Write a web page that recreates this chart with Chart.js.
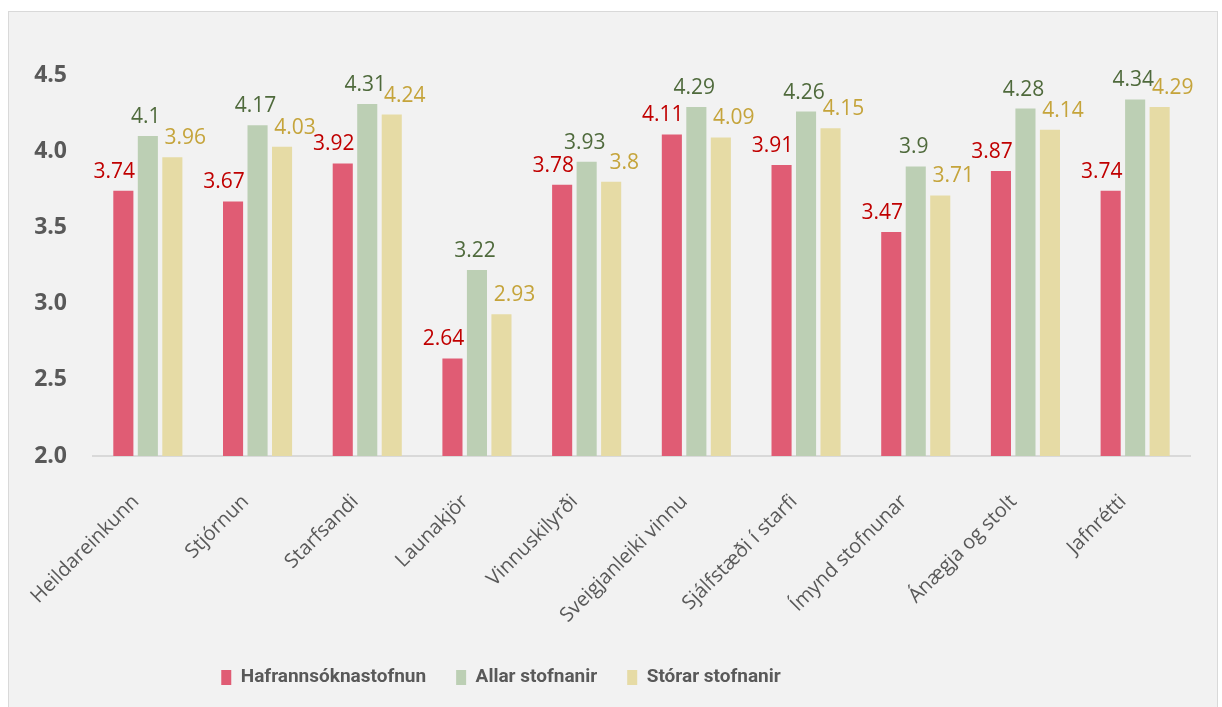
<!DOCTYPE html>
<html>
<head>
<meta charset="utf-8">
<script src="https://cdn.jsdelivr.net/npm/chart.js@4/dist/chart.umd.min.js"></script>
<style>
  html, body { margin: 0; padding: 0; background: #fff; }
  #wrap { position: absolute; left: 0; top: 0; width: 1222px; height: 707px; }
</style>
</head>
<body>
<div id="wrap"><canvas id="surveyChart" width="1222" height="707"></canvas></div>
<script>
const categories = ['Heildareinkunn', 'Stjórnun', 'Starfsandi', 'Launakjör', 'Vinnuskilyrði',
  'Sveigjanleiki vinnu', 'Sjálfstæði í starfi', 'Ímynd stofnunar', 'Ánægja og stolt', 'Jafnrétti'];
const seriesNames = ['Hafrannsóknastofnun', 'Allar stofnanir', 'Stórar stofnanir'];
const hafro = [3.74, 3.67, 3.92, 2.64, 3.78, 4.11, 3.91, 3.47, 3.87, 3.74];
const allar = [4.1, 4.17, 4.31, 3.22, 3.93, 4.29, 4.26, 3.9, 4.28, 4.34];
const storar = [3.96, 4.03, 4.24, 2.93, 3.8, 4.09, 4.15, 3.71, 4.14, 4.29];
const yTicks = [2.0, 2.5, 3.0, 3.5, 4.0, 4.5];

const barColors = ['#e05c74', '#bccfb4', '#e6dba5'];
const labelColors = ['#c00000', '#4f6a3c', '#c5a43b'];
const labelShift = [-9, -2, 13];
const FONT = "'Open Sans', 'Noto Sans', sans-serif";

// frame + grey background behind the chart
const framePlugin = {
    id: 'frame',
    beforeDraw(chart) {
        const c = chart.ctx;
        c.save();
        c.fillStyle = '#f2f2f2';
        c.fillRect(8, 11, 1210, 700);
        c.strokeStyle = '#d9d9d9';
        c.lineWidth = 1;
        c.strokeRect(8.5, 11.5, 1209, 700);
        c.restore();
    },
    // legend sits left of centre in the original
    afterLayout(chart) {
        if (chart.legend) {
            chart.legend.left -= 94;
            chart.legend.right -= 94;
        }
    }
};

// value labels above bars
const valueLabels = {
    id: 'valueLabels',
    afterDatasetsDraw(chart) {
        const c = chart.ctx;
        c.save();
        c.font = '21px ' + FONT;
        c.textAlign = 'center';
        c.textBaseline = 'alphabetic';
        chart.data.datasets.forEach((ds, i) => {
            const meta = chart.getDatasetMeta(i);
            c.fillStyle = labelColors[i];
            meta.data.forEach((bar, j) => {
                c.fillText(String(ds.data[j]), bar.x + labelShift[i], bar.y - 13);
            });
        });
        c.restore();
    }
};

new Chart(document.getElementById('surveyChart'), {
    type: 'bar',
    data: {
        labels: categories,
        datasets: [hafro, allar, storar].map((d, i) => ({
            label: seriesNames[i],
            data: d,
            backgroundColor: barColors[i],
            borderWidth: 0,
            categoryPercentage: 0.67,
            barPercentage: 0.82
        }))
    },
    options: {
        responsive: false,
        animation: false,
        layout: { padding: { top: 75, right: 32, bottom: 10, left: 0 } },
        scales: {
            y: {
                min: 2.0,
                max: 4.5,
                afterBuildTicks: axis => { axis.ticks = yTicks.map(v => ({ value: v })); },
                afterFit: axis => { axis.width = 93; },
                grid: { display: false, drawTicks: false },
                border: { display: false },
                ticks: {
                    padding: 26,
                    color: '#595959',
                    font: { family: FONT, size: 23, weight: 'bold' },
                    callback: v => Number(v).toFixed(1)
                }
            },
            x: {
                afterFit: axis => { axis.height = 182; },
                grid: { display: false, drawTicks: false },
                border: { display: true, color: '#d9d9d9', width: 2 },
                ticks: {
                    minRotation: 45,
                    maxRotation: 45,
                    padding: 34,
                    labelOffset: -12,
                    color: '#595959',
                    font: { family: FONT, size: 20 }
                }
            }
        },
        plugins: {
            legend: {
                position: 'bottom',
                labels: {
                    boxWidth: 10,
                    boxHeight: 15,
                    padding: 30,
                    color: '#595959',
                    font: { family: "Roboto, 'Liberation Sans', sans-serif", size: 19, weight: 'bold' }
                }
            },
            tooltip: { enabled: false }
        }
    },
    plugins: [framePlugin, valueLabels]
});
</script>
</body>
</html>
